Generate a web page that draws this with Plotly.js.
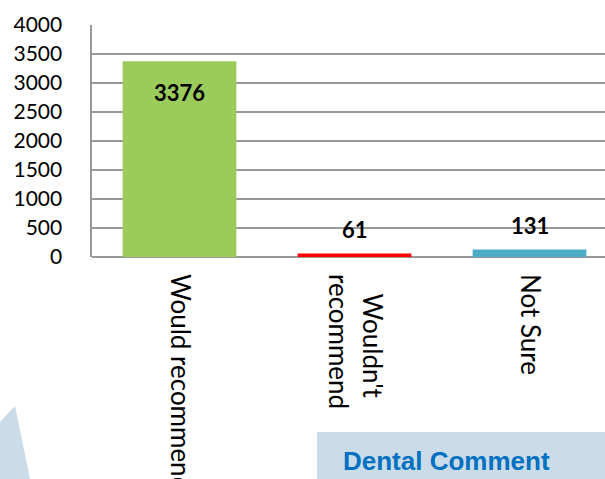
<!DOCTYPE html>
<html><head><meta charset="utf-8">
<script src="https://cdn.plot.ly/plotly-3.0.1.min.js"></script>
<style>html,body{margin:0;padding:0;background:#fff}#chart{width:605px;height:479px}</style>
</head><body><div id="chart"></div>
<script>
var categories = ["Would recommend", "\u00a0\u00a0\u00a0Wouldn't<br>recommend", "Not Sure"];
var values = [3376, 61, 131];
var barColors = ["#9bcb5b", "#ff0000", "#4bacc6"];
var yTicks = [0, 500, 1000, 1500, 2000, 2500, 3000, 3500, 4000];
var footerText = "Dental Comment";

var W = 605, H = 479, L = 92, T = 25, B = 222;
var pw = W - L, ph = H - T - B;
function px(x){ return (x - L) / pw; }
function py(y){ return (H - B - y) / ph; }

var trace = {
  type: 'bar', x: categories, y: values,
  marker: {color: barColors, line: {width: 0}},
  width: 0.65, hoverinfo: 'none'
};

var annotations = values.map(function(v, i){
  var inside = v > 1000;
  return {x: categories[i], y: v, xref: 'x', yref: 'y', text: '<b>' + v + '</b>',
    showarrow: false, yshift: inside ? -31 : 24, yanchor: 'middle',
    font: {family: 'Lato, sans-serif', size: 22, color: '#000'}};
});
annotations.push({xref: 'paper', yref: 'paper', x: px(341), y: py(461), xanchor: 'left', yanchor: 'middle',
  text: '<b>' + footerText + '</b>', showarrow: false,
  font: {family: 'Liberation Sans, Arial, sans-serif', size: 26, color: '#0070c0'}});

var layout = {
  width: W, height: H, margin: {l: L, r: 0, t: T, b: B},
  paper_bgcolor: '#fff', plot_bgcolor: '#fff', showlegend: false,
  bargap: 0.35,
  xaxis: {range: [-0.5, -0.5 + pw / 175], showgrid: false, zeroline: false,
    showline: false, ticks: '', tickangle: 90, ticklabelstandoff: 16,
    tickfont: {family: 'Lato, sans-serif', size: 26, color: '#000'}, fixedrange: true},
  yaxis: {range: [0, 4000], tickvals: yTicks, ticktext: yTicks.map(String),
    showgrid: true, gridcolor: '#999999', gridwidth: 1.6, zeroline: true, zerolinecolor: '#999999', zerolinewidth: 1.6,
    showline: true, linecolor: '#999999', linewidth: 1.6, ticks: '', ticklabelstandoff: 24,
    tickfont: {family: 'Lato, sans-serif', size: 21, color: '#000'}, fixedrange: true},
  annotations: annotations,
  shapes: [
    {type: 'path', xref: 'paper', yref: 'paper', layer: 'below',
     path: 'M' + px(0) + ',' + py(422) + ' L' + px(15) + ',' + py(406) + ' L' + px(30) + ',' + py(479) + ' L' + px(0) + ',' + py(479) + ' Z',
     fillcolor: '#cadbe9', line: {width: 0}},
    {type: 'rect', xref: 'paper', yref: 'paper', layer: 'below',
     x0: px(317), x1: px(605), y0: py(432), y1: py(479),
     fillcolor: '#cadbe9', line: {width: 0}}
  ]
};

Plotly.newPlot('chart', [trace], layout, {staticPlot: true, displayModeBar: false});
</script></body></html>
